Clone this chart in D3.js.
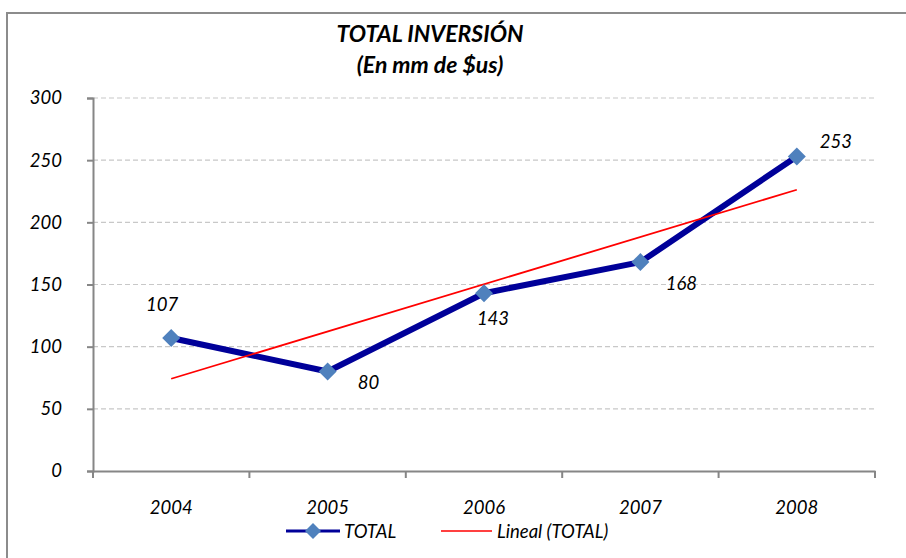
<!DOCTYPE html>
<html><head><meta charset="utf-8">
<script src="https://cdn.jsdelivr.net/npm/d3@7"></script>
<style>body{margin:0;background:#fff}svg{display:block}text{font-family:Lato,"Open Sans",sans-serif;font-style:italic}</style>
</head><body><svg id="c" width="906" height="558"></svg>
<script>
const categories = ["2004","2005","2006","2007","2008"];
const totalValues = [107, 80, 143, 168, 253];
const yTicks = [0, 50, 100, 150, 200, 250, 300];
const titleLines = ["TOTAL INVERSIÓN", "(En mm de $us)"];
const legendLabels = ["TOTAL", "Lineal (TOTAL)"];

const svg = d3.select("#c");
const m = {l:93, r:875, t:98, b:471};
const FS = 18.5;

// frame
svg.append("rect").attr("x",7).attr("y",13).attr("width",906).attr("height",600)
  .attr("fill","none").attr("stroke","#8c8c8c").attr("stroke-width",2);

const x = d3.scaleBand().domain(categories).range([m.l, m.r]);
const y = d3.scaleLinear().domain([0,300]).range([m.b, m.t]);
const cx = d => x(d) + x.bandwidth()/2;

// gridlines
svg.append("g").selectAll("line").data(yTicks.filter(v=>v>0)).join("line")
  .attr("x1", m.l).attr("x2", m.r).attr("y1", d=>y(d)).attr("y2", d=>y(d))
  .attr("stroke","#c8c8c8").attr("stroke-width",1.2).attr("stroke-dasharray","5,3");

// y axis
const ya = svg.append("g").attr("transform",`translate(${m.l},0)`)
  .call(d3.axisLeft(y).tickValues(yTicks).tickSize(6).tickPadding(25));
ya.select(".domain").attr("stroke","#868686").attr("stroke-width",2);
ya.selectAll(".tick line").attr("stroke","#868686").attr("stroke-width",2);
ya.selectAll("text").attr("font-size",FS).attr("fill","#000").attr("font-family","Lato,'Open Sans',sans-serif").attr("font-style","italic");

// x axis
const xa = svg.append("g").attr("transform",`translate(0,${m.b})`)
  .call(d3.axisBottom(x).tickSize(0).tickPadding(30));
xa.select(".domain").attr("stroke","#868686").attr("stroke-width",2);
xa.selectAll("text").attr("font-size",FS).attr("fill","#000").attr("font-family","Lato,'Open Sans',sans-serif").attr("font-style","italic");
const bounds = categories.map(c=>x(c)).concat([m.r]);
svg.append("g").selectAll("line").data(bounds).join("line")
  .attr("x1",d=>d).attr("x2",d=>d).attr("y1",m.b).attr("y2",m.b+7)
  .attr("stroke","#868686").attr("stroke-width",2);

// data line
const pts = categories.map((c,i)=>({c, v: totalValues[i]}));
svg.append("path").datum(pts)
  .attr("d", d3.line().x(d=>cx(d.c)).y(d=>y(d.v)))
  .attr("fill","none").attr("stroke","#000099").attr("stroke-width",6).attr("stroke-linejoin","round");

// linear trendline (least squares over category index)
const n = totalValues.length;
const xs = totalValues.map((_,i)=>i+1);
const mx = d3.mean(xs), my = d3.mean(totalValues);
const slope = d3.sum(xs.map((xi,i)=>(xi-mx)*(totalValues[i]-my))) / d3.sum(xs.map(xi=>(xi-mx)**2));
const icpt = my - slope*mx;
svg.append("line")
  .attr("x1", cx(categories[0])).attr("y1", y(icpt + slope*1))
  .attr("x2", cx(categories[n-1])).attr("y2", y(icpt + slope*n))
  .attr("stroke","#ff0000").attr("stroke-width",1.8);

// markers
const diamond = (s)=>`M0,${-s}L${s},0L0,${s}L${-s},0Z`;
svg.append("g").selectAll("path").data(pts).join("path")
  .attr("transform", d=>`translate(${cx(d.c)},${y(d.v)})`)
  .attr("d", diamond(9)).attr("fill","#4f81bd");

// data labels
const offs = [[-9,-27],[41,17],[9,32],[41,28],[39,-8]];
svg.append("g").selectAll("text").data(pts).join("text")
  .attr("x",(d,i)=>cx(d.c)+offs[i][0]).attr("y",(d,i)=>y(d.v)+offs[i][1])
  .attr("text-anchor","middle").attr("font-size",FS).attr("fill","#000")
  .text(d=>d.v);

// title
svg.append("g").selectAll("text").data(titleLines).join("text")
  .attr("x",430).attr("y",(d,i)=>42+i*31).attr("text-anchor","middle")
  .attr("font-size",23).attr("font-weight","bold").attr("fill","#000").text(d=>d);

// legend
const lg = svg.append("g");
lg.append("line").attr("x1",286).attr("x2",340).attr("y1",531).attr("y2",531)
  .attr("stroke","#000099").attr("stroke-width",3);
lg.append("path").attr("transform","translate(313,531)").attr("d",diamond(8)).attr("fill","#4f81bd");
lg.append("text").attr("x",344).attr("y",538).attr("font-size",FS).attr("fill","#000").text(legendLabels[0]);
lg.append("line").attr("x1",441).attr("x2",492).attr("y1",531).attr("y2",531)
  .attr("stroke","#ff0000").attr("stroke-width",1.5);
lg.append("text").attr("x",497).attr("y",538).attr("font-size",FS).attr("fill","#000").text(legendLabels[1]);
</script></body></html>
